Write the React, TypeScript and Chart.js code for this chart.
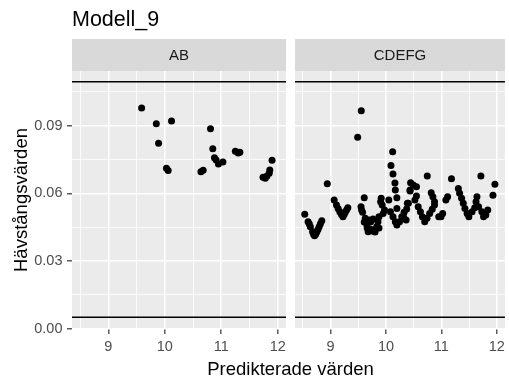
import React, { useEffect, useRef } from "react";
import { Chart, registerables } from "chart.js";

Chart.register(...registerables);

// ---- data ----
const chartTitle = "Modell_9";
const panelLabels = ["AB", "CDEFG"];
const xAxisTitle = "Predikterade värden";
const yAxisTitle = "Hävstångsvärden";

const abX = [9.59, 9.85, 10.12, 9.89, 10.03, 10.06, 10.64, 10.68, 10.81, 10.85, 10.88, 10.91, 10.95, 11.03, 11.25, 11.30, 11.33, 11.74, 11.78, 11.81, 11.85, 11.86, 11.90];
const abY = [0.0979, 0.0909, 0.0921, 0.0822, 0.0711, 0.0701, 0.0696, 0.0702, 0.0887, 0.0798, 0.0758, 0.0748, 0.0730, 0.0739, 0.0787, 0.0779, 0.0782, 0.0671, 0.0667, 0.0677, 0.0689, 0.0704, 0.0747];

const cdX = [
  9.554, 9.488, 8.940, 10.120, 10.090, 10.126, 10.161, 10.745, 11.182, 11.713, 11.966, 11.931,
  8.533, 8.593, 8.616, 8.634, 8.674, 8.692, 8.710, 8.731, 8.752, 8.772, 8.793, 8.816, 8.841,
  9.064, 9.106, 9.135, 9.165, 9.195, 9.223, 9.244, 9.265, 9.288, 9.311,
  9.549, 9.559, 9.577, 9.607, 9.655, 9.713, 9.784, 9.832, 9.855, 9.726, 9.696, 9.660, 9.749, 9.678, 9.802, 9.873,
  9.625, 9.766, 9.607, 9.873,
  9.949, 9.973, 9.913, 9.903, 9.931, 10.050, 10.196, 10.168, 10.404, 10.434,
  10.080, 10.126, 10.168, 10.196, 10.244, 10.285, 10.327, 10.373, 10.196,
  10.444, 10.492, 10.550, 10.434, 10.550, 10.522, 10.386, 10.315, 10.363, 10.816, 10.846, 10.876,
  10.581, 10.621, 10.657, 10.699, 10.740, 10.788, 10.834, 10.876, 11.081, 11.112, 11.023, 10.993, 10.952,
  11.306, 11.329, 11.365, 11.395, 11.425, 11.465, 11.496, 11.554, 11.602, 11.625, 11.642, 11.672, 11.731, 11.761, 11.802, 11.837,
];
const cdY = [
  0.0967, 0.0849, 0.0643, 0.0785, 0.0724, 0.0686, 0.0646, 0.0677, 0.0665, 0.0677, 0.0640, 0.0592,
  0.0507, 0.0474, 0.0464, 0.0452, 0.0430, 0.0419, 0.0412, 0.0419, 0.0430, 0.0440, 0.0452, 0.0465, 0.0478,
  0.0570, 0.0548, 0.0533, 0.0518, 0.0506, 0.0496, 0.0506, 0.0516, 0.0526, 0.0536,
  0.0541, 0.0526, 0.0516, 0.0581, 0.0459, 0.0442, 0.0437, 0.0452, 0.0474, 0.0474, 0.0482, 0.0446, 0.0433, 0.0430, 0.0428, 0.0496,
  0.0489, 0.0486, 0.0473, 0.0446,
  0.0511, 0.0526, 0.0578, 0.0563, 0.0548, 0.0570, 0.0581, 0.0615, 0.0556, 0.0610,
  0.0518, 0.0496, 0.0474, 0.0459, 0.0474, 0.0496, 0.0516, 0.0531, 0.0533,
  0.0647, 0.0637, 0.0629, 0.0615, 0.0588, 0.0570, 0.0556, 0.0496, 0.0482, 0.0603, 0.0585, 0.0563,
  0.0541, 0.0518, 0.0496, 0.0474, 0.0489, 0.0511, 0.0529, 0.0548, 0.0570, 0.0585, 0.0511, 0.0496, 0.0496,
  0.0622, 0.0600, 0.0578, 0.0556, 0.0533, 0.0511, 0.0496, 0.0518, 0.0536, 0.0563, 0.0585, 0.0541, 0.0518, 0.0496, 0.0504, 0.0526,
];

const hlineValues = [0.005, 0.1095];

const xMajor = [9, 10, 11, 12];
const xMinor = [8.5, 9.5, 10.5, 11.5];
const yMajor = [0, 0.03, 0.06, 0.09];
const yMinor = [0.015, 0.045, 0.075, 0.105];

const X_MIN = 8.357;
const X_MAX = 12.147;
const Y_MIN = -0.0002;
const Y_MAX = 0.1143;

const FONT = "'Liberation Sans', Arial, sans-serif";

function makeConfig(panel: number): any {
  const xs = panel === 0 ? abX : cdX;
  const ys = panel === 0 ? abY : cdY;
  const pts = xs.map((x, i) => ({ x, y: ys[i] }));
  const hlines = hlineValues.map((v) => ({
    type: "line",
    data: [
      { x: X_MIN, y: v },
      { x: X_MAX, y: v },
    ],
    borderColor: "#000000",
    borderWidth: 1.6,
    pointRadius: 0,
    fill: false,
  }));

  const deco = {
    id: "deco" + panel,
    beforeDraw(chart: any) {
      const { ctx, chartArea } = chart;
      ctx.save();
      ctx.fillStyle = "#EBEBEB";
      ctx.fillRect(chartArea.left, chartArea.top, chartArea.right - chartArea.left, chartArea.bottom - chartArea.top);
      ctx.restore();
    },
    afterDraw(chart: any) {
      const { ctx, chartArea } = chart;
      ctx.save();
      ctx.fillStyle = "#D9D9D9";
      ctx.fillRect(chartArea.left, 39, chartArea.right - chartArea.left, chartArea.top - 39);
      ctx.fillStyle = "#1A1A1A";
      ctx.font = `15px ${FONT}`;
      ctx.textAlign = "center";
      ctx.textBaseline = "middle";
      ctx.fillText(panelLabels[panel], (chartArea.left + chartArea.right) / 2, 56);
      if (panel === 0) {
        ctx.fillStyle = "#000000";
        ctx.font = `21.5px ${FONT}`;
        ctx.textAlign = "left";
        ctx.textBaseline = "alphabetic";
        ctx.fillText(chartTitle, 72, 26);
        ctx.font = `18.5px ${FONT}`;
        ctx.textAlign = "center";
        ctx.fillText(xAxisTitle, 290.5, 375);
        ctx.translate(26.5, (chartArea.top + chartArea.bottom) / 2);
        ctx.rotate(-Math.PI / 2);
        ctx.fillText(yAxisTitle, 0, 0);
      }
      ctx.restore();
    },
  };

  return {
    type: "scatter",
    data: {
      datasets: [
        {
          data: pts,
          backgroundColor: "#000000",
          borderColor: "#000000",
          borderWidth: 0,
          pointRadius: 3.5,
        },
        ...hlines,
      ],
    },
    options: {
      responsive: false,
      devicePixelRatio: 1,
      animation: false,
      events: [],
      layout: {
        padding: panel === 0 ? { left: 0, right: 223, top: 71, bottom: 0 } : { left: 295, right: 0, top: 71, bottom: 0 },
      },
      plugins: { legend: { display: false }, tooltip: { enabled: false }, title: { display: false } },
      scales: {
        x: {
          type: "linear",
          min: X_MIN,
          max: X_MAX,
          afterBuildTicks: (s: any) => {
            s.ticks = [...xMinor, ...xMajor].sort((a, b) => a - b).map((v) => ({ value: v }));
          },
          afterFit: (s: any) => {
            s.height = 52;
          },
          border: { display: false },
          grid: {
            color: "#FFFFFF",
            lineWidth: (c: any) => (c.tick && xMajor.includes(c.tick.value) ? 1.6 : 0.8),
            drawTicks: true,
            tickLength: 5,
            tickWidth: 1.2,
            tickColor: (c: any) => (c.tick && xMajor.includes(c.tick.value) ? "#333333" : "rgba(0,0,0,0)"),
          },
          ticks: {
            autoSkip: false,
            maxRotation: 0,
            padding: 4,
            color: "#4D4D4D",
            font: { family: FONT, size: 14.5 },
            callback: (v: any) => (xMajor.includes(v) ? String(v) : ""),
          },
        },
        y: {
          type: "linear",
          min: Y_MIN,
          max: Y_MAX,
          afterBuildTicks: (s: any) => {
            s.ticks = [...yMajor, ...yMinor].sort((a, b) => a - b).map((v) => ({ value: v }));
          },
          afterFit: (s: any) => {
            s.width = panel === 0 ? 72 : 0;
          },
          border: { display: false },
          grid: {
            color: "#FFFFFF",
            lineWidth: (c: any) => (c.tick && yMajor.includes(c.tick.value) ? 1.6 : 0.8),
            drawTicks: panel === 0,
            tickLength: 5,
            tickWidth: 1.2,
            tickColor: (c: any) => (c.tick && yMajor.includes(c.tick.value) ? "#333333" : "rgba(0,0,0,0)"),
          },
          ticks: {
            display: panel === 0,
            autoSkip: false,
            padding: 4.5,
            color: "#4D4D4D",
            font: { family: FONT, size: 14.5 },
            callback: (v: any) => (yMajor.includes(v) ? Number(v).toFixed(2) : ""),
          },
        },
      },
    },
    plugins: [deco],
  };
}

export default function App() {
  const ref1 = useRef<HTMLCanvasElement | null>(null);
  const ref2 = useRef<HTMLCanvasElement | null>(null);

  useEffect(() => {
    const c1 = new Chart(ref1.current as HTMLCanvasElement, makeConfig(0));
    const c2 = new Chart(ref2.current as HTMLCanvasElement, makeConfig(1));
    return () => {
      c1.destroy();
      c2.destroy();
    };
  }, []);

  const canvasStyle: React.CSSProperties = { position: "absolute", left: 0, top: 0, width: 509, height: 381 };
  return (
    <div style={{ position: "fixed", left: 0, top: 0, width: 509, height: 381, background: "#FFFFFF" }}>
      <canvas ref={ref1} width={509} height={381} style={canvasStyle} />
      <canvas ref={ref2} width={509} height={381} style={canvasStyle} />
    </div>
  );
}
